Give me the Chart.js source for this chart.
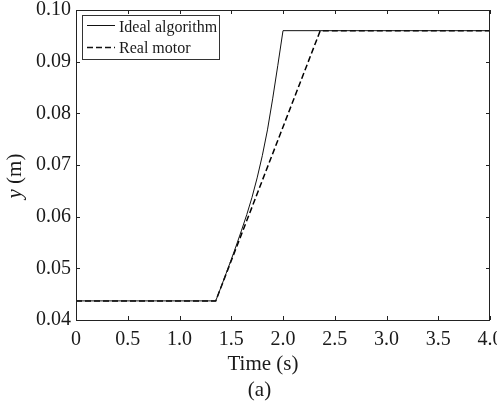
<!DOCTYPE html>
<html>
<head>
<meta charset="utf-8">
<script src="https://cdn.jsdelivr.net/npm/chart.js@4/dist/chart.umd.min.js"></script>
<style>
    html, body { margin: 0; padding: 0; background: #fff; overflow: hidden; }
    #wrap { width: 520px; height: 405px; }
</style>
</head>
<body>
<div id="wrap"><canvas id="stepChart" width="520" height="405"></canvas></div>
<script>
// values
const seriesNames = ['Ideal algorithm', 'Real motor'];

const idealTime = [0, 1.35, 1.40, 1.45, 1.50, 1.55, 1.60, 1.65, 1.70, 1.75, 1.80, 1.85, 1.90, 1.95, 2.00, 4.0];
const idealPos = [0.0437, 0.0437, 0.0463, 0.0490, 0.0517, 0.0545, 0.0574, 0.0604, 0.0637, 0.0675, 0.0718, 0.0768, 0.0828, 0.0893, 0.0960, 0.0960];

const motorTime = [0, 1.35, 2.36, 4.0];
const motorPos = [0.0437, 0.0437, 0.0960, 0.0960];

const xTicks = [0, 0.5, 1.0, 1.5, 2.0, 2.5, 3.0, 3.5, 4.0];
const yTicks = [0.04, 0.05, 0.06, 0.07, 0.08, 0.09, 0.10];

const xTitle = 'Time (s)';
const yTitleVar = 'y';
const yTitleUnit = ' (m)';
const caption = '(a)';

const serif = '"Liberation Serif", "Times New Roman", serif';
const inkColor = '#1a1a1a';

const toPoints = (xs, ys) => xs.map((x, i) => ({ x: x, y: ys[i] }));

const frameAndLabels = {
    id: 'frameAndLabels',
    afterDraw(chart) {
        const ctx = chart.ctx;
        const area = chart.chartArea;
        const xs = chart.scales.x;
        const ys = chart.scales.y;
        ctx.save();

        // box round the plot
        ctx.strokeStyle = '#222';
        ctx.lineWidth = 1;
        ctx.setLineDash([]);
        ctx.strokeRect(area.left + 0.5, area.top + 0.5, area.right - area.left - 1, area.bottom - area.top);

        // inward ticks on all four sides
        const tl = 4;
        ctx.beginPath();
        for (const v of xTicks) {
            const px = Math.round(xs.getPixelForValue(v)) + 0.5;
            ctx.moveTo(px, area.bottom);
            ctx.lineTo(px, area.bottom - tl);
            ctx.moveTo(px, area.top);
            ctx.lineTo(px, area.top + tl);
        }
        for (const v of yTicks) {
            const py = Math.round(ys.getPixelForValue(v)) + 0.5;
            ctx.moveTo(area.left, py);
            ctx.lineTo(area.left + tl, py);
            ctx.moveTo(area.right, py);
            ctx.lineTo(area.right - tl, py);
        }
        ctx.stroke();

        // legend
        ctx.fillStyle = '#fff';
        ctx.fillRect(82.5, 15.5, 137, 44);
        ctx.strokeStyle = '#333';
        ctx.strokeRect(82.5, 15.5, 137, 44);
        ctx.strokeStyle = '#111';
        ctx.beginPath();
        ctx.moveTo(87, 25.5);
        ctx.lineTo(115, 25.5);
        ctx.stroke();
        ctx.lineWidth = 1.5;
        ctx.setLineDash([6, 3]);
        ctx.beginPath();
        ctx.moveTo(87, 47.5);
        ctx.lineTo(115, 47.5);
        ctx.stroke();
        ctx.setLineDash([]);

        ctx.fillStyle = inkColor;
        ctx.font = '16px ' + serif;
        ctx.textAlign = 'left';
        ctx.textBaseline = 'alphabetic';
        ctx.fillText(seriesNames[0], 119, 31.5);
        ctx.fillText(seriesNames[1], 119, 53);

        // axis titles and caption
        ctx.font = '21px ' + serif;
        ctx.textAlign = 'center';
        ctx.fillText(xTitle, 263, 370);
        ctx.fillText(caption, 259.5, 396);

        ctx.translate(21, 176);
        ctx.rotate(-Math.PI / 2);
        ctx.font = 'italic 21px ' + serif;
        const wVar = ctx.measureText(yTitleVar).width;
        ctx.font = '21px ' + serif;
        const wUnit = ctx.measureText(yTitleUnit).width;
        const start = -(wVar + wUnit) / 2;
        ctx.textAlign = 'left';
        ctx.font = 'italic 21px ' + serif;
        ctx.fillText(yTitleVar, start, 0);
        ctx.font = '21px ' + serif;
        ctx.fillText(yTitleUnit, start + wVar, 0);
        ctx.restore();
    },
};

const chartCtx = document.getElementById('stepChart').getContext('2d');

let stepChart = new Chart(chartCtx, {
    type: 'scatter',
    data: {
        datasets: [
            {
                label: seriesNames[0],
                data: toPoints(idealTime, idealPos),
                showLine: true,
                borderColor: '#111',
                borderWidth: 1,
                pointRadius: 0,
                tension: 0,
            },
            {
                label: seriesNames[1],
                data: toPoints(motorTime, motorPos),
                showLine: true,
                borderColor: '#000',
                borderWidth: 1.5,
                borderDash: [6, 3],
                pointRadius: 0,
                tension: 0,
            },
        ],
    },
    options: {
        responsive: false,
        animation: false,
        devicePixelRatio: 1,
        layout: { padding: { left: 0, right: 30, top: 10, bottom: 0 } },
        plugins: {
            legend: { display: false },
            tooltip: { enabled: false },
        },
        scales: {
            x: {
                type: 'linear',
                min: 0,
                max: 4,
                afterBuildTicks: (scale) => {
                    scale.ticks = xTicks.map((v) => ({ value: v }));
                },
                afterFit: (scale) => {
                    scale.height = 85;
                    scale.paddingLeft = 0;
                    scale.paddingRight = 0;
                },
                grid: { display: false, drawTicks: false },
                border: { display: false },
                ticks: {
                    padding: 8,
                    color: inkColor,
                    maxRotation: 0,
                    autoSkip: false,
                    font: { family: serif, size: 20 },
                    callback: (v) => (v === 0 ? '0' : Number(v).toFixed(1)),
                },
            },
            y: {
                type: 'linear',
                min: 0.04,
                max: 0.10,
                afterBuildTicks: (scale) => {
                    scale.ticks = yTicks.map((v) => ({ value: v }));
                },
                afterFit: (scale) => {
                    scale.width = 76;
                    scale.paddingTop = 0;
                    scale.paddingBottom = 0;
                },
                grid: { display: false, drawTicks: false },
                border: { display: false },
                ticks: {
                    padding: 5,
                    color: inkColor,
                    autoSkip: false,
                    font: { family: serif, size: 20 },
                    callback: (v) => Number(v).toFixed(2),
                },
            },
        },
    },
    plugins: [frameAndLabels],
});
</script>
</body>
</html>
